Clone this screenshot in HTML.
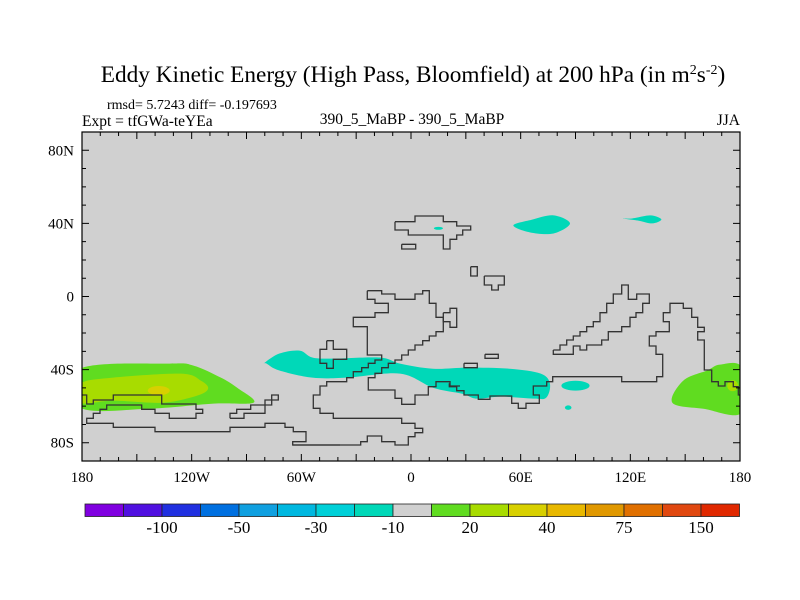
<!DOCTYPE html>
<html><head><meta charset="utf-8"><style>
html,body{margin:0;padding:0;background:#fff;}
svg{display:block;}
text{font-family:"Liberation Serif",serif;fill:#000;}
</style></head><body>
<svg id="chart" width="800" height="600" viewBox="0 0 800 600">
<text x="413" y="82" font-size="23.3" text-anchor="middle">Eddy Kinetic Energy (High Pass, Bloomfield) at 200 hPa (in m<tspan dy="-8" font-size="14">2</tspan><tspan dy="8">s</tspan><tspan dy="-8" font-size="14">-2</tspan><tspan dy="8">)</tspan></text>
<text x="107" y="109" font-size="14">rmsd= 5.7243 diff= -0.197693</text>
<text x="82" y="126" font-size="15.5">Expt = tfGWa-teYEa</text>
<text x="412" y="124" font-size="15.5" text-anchor="middle">390_5_MaBP - 390_5_MaBP</text>
<text x="740" y="125" font-size="15.5" text-anchor="end">JJA</text>
<defs><clipPath id="pc"><rect x="82" y="132" width="658" height="329"/></clipPath></defs>
<rect x="82" y="132" width="658" height="329" fill="#d0d0d0"/>
<g id="fills" clip-path="url(#pc)"></g>
<g id="coast" clip-path="url(#pc)" fill="none" stroke="#333" stroke-width="1.3"></g>
<g id="axes"></g>
<g id="cbar"></g>
</svg>
<script>
// ---- data ----
const lonTicks = [-180,-120,-60,0,60,120,180];
const lonLabels = ["180","120W","60W","0","60E","120E","180"];
const latTicks = [80,40,0,-40,-80];
const latLabels = ["80N","40N","0","40S","80S"];
const cbarLevels = ["-100","-50","-30","-10","20","40","75","150"];
const cbarColors = ["#8000e0","#5010e0","#2030e0","#0070e0","#10a0e0","#00b8e0","#00d0d8","#00d8b8","#d0d0d0","#60dc20","#a8dc00","#d8d000","#e8b800","#e09800","#e07000","#e04810","#e02800"];
// contour regions in lon/lat with level index into cbarColors
const regionLevels = [9,10,7,9,7,7];
const regionGreenSW = [[-181,-39.5],[-132,-36.7],[-119,-37.8],[-104,-44.4],[-95,-50],[-86,-58],[-108,-58.6],[-144,-61.4],[-181,-60.8]];
const regionYGSW = [[-181,-47.7],[-163,-44.4],[-126,-42.2],[-115,-46],[-111,-50.4],[-117,-54.2],[-136,-58.1],[-163,-57],[-181,-58.1]];
const regionTealS = [[-80,-36.2],[-72,-31.2],[-61,-29.6],[-54,-33.4],[-43,-34],[-17,-33.4],[-6,-36.7],[12,-39.5],[31,-38.9],[54,-39.5],[71,-42.2],[76,-47.7],[74,-55.3],[67,-55.9],[49,-54.8],[36,-55.9],[28,-53.2],[12,-49.9],[-6,-42.2],[-35,-44.4],[-54,-44.4],[-72,-40.5],[-79,-36.7]];
const regionGreenSE = [[143,-58.1],[149,-46],[162,-40.5],[169,-37.3],[181,-38.9],[181,-63.6],[160,-61.4]];
const regionTealN1 = [[56,38.9],[66,42],[78,44.4],[87,40],[78,34.5],[65,35.1]];
const regionTealN2 = [[116,42.7],[121,42.7],[131,44.4],[137,42.2],[132,40],[124,41.6]];
const regions = [regionGreenSW,regionYGSW,regionTealS,regionGreenSE,regionTealN1,regionTealN2];
// small spots: lon, lat, rx(deg), ry(deg), level
const spotLon = [-138,90,86,176,15];
const spotLat = [-51.5,-48.8,-60.8,-48.8,37.3];
const spotRx = [6,7.7,1.8,3,2.5];
const spotRy = [2.5,2.7,1.2,3,0.8];
const spotLevel = [11,7,7,10,7];

// ---- axes ----
const X0=82,X1=740,Y0=132,Y1=461;
const xS = lon => X0 + (lon+180)/360*(X1-X0);
const yS = lat => Y0 + (90-lat)/180*(Y1-Y0);
const NS="http://www.w3.org/2000/svg";
function mk(tag,parent){const e=document.createElementNS(NS,tag);parent.appendChild(e);return e;}

function smoothPath(pts){
  const P=pts.map(p=>[xS(p[0]),yS(p[1])]);const n=P.length;let d="M"+P[0][0]+","+P[0][1];
  for(let i=0;i<n;i++){const p0=P[(i-1+n)%n],p1=P[i],p2=P[(i+1)%n],p3=P[(i+2)%n];
    d+=" C"+(p1[0]+(p2[0]-p0[0])/6)+","+(p1[1]+(p2[1]-p0[1])/6)+" "+(p2[0]-(p3[0]-p1[0])/6)+","+(p2[1]-(p3[1]-p1[1])/6)+" "+p2[0]+","+p2[1];}
  return d+"Z";
}
const fills=document.getElementById('fills');
regions.forEach((r,i)=>{const p=mk('path',fills);p.setAttribute('d',smoothPath(r));p.setAttribute('fill',cbarColors[regionLevels[i]]);

});
spotLon.forEach((lo,i)=>{const e=mk('ellipse',fills);e.setAttribute('cx',xS(lo));e.setAttribute('cy',yS(spotLat[i]));
e.setAttribute('rx',spotRx[i]*(X1-X0)/360);e.setAttribute('ry',spotRy[i]*(Y1-Y0)/180);e.setAttribute('fill',cbarColors[spotLevel[i]]);

});

// ---- basemap outlines (traced in zoomed screen units: ox, oy, then x,y pairs /3) ----
const coastTraces=[
[380,200,[45,65,105,65,105,48,190,48,190,65,230,65,230,78,272,78,272,90,248,90,248,105,230,105,230,118,210,118,210,147,190,147,190,105,85,105,85,90,45,90,45,65]],
[380,200,[65,133,107,133,107,147,65,147,65,133]],
[380,200,[272,200,292,200,292,228,272,228,272,200]],
[380,200,[313,228,373,228,373,255,355,255,355,270,335,270,335,255,313,255,313,228]],
[280,270,[262,62,305,62,305,72,345,72,345,88,405,88,405,72,428,72,428,62,448,62,448,100,468,100,468,142,490,142,490,185,468,185,468,198,448,198,448,212,428,212,428,225,405,225,405,240,385,240,385,255,365,255,365,270,345,270,345,280,325,280,325,293,305,293,305,310,285,310,285,323,265,323,265,360,345,360,345,385,365,385,365,403,405,403,405,375,445,375,445,350,468,350,468,335,510,335,510,348,540,348]],
[280,270,[262,62,262,88,285,88,285,100,325,100,325,128,285,128,285,142,220,142,220,170,262,170,262,255,305,255,305,270,285,270,285,280,265,280,265,293,245,293,245,305,220,305,220,323,200,323,200,335,140,335,140,348,120,348,120,375,100,375,100,415,120,415,120,430,160,430,160,445,365,445,365,460,405,460,405,475,428,475,428,488,405,488,405,500,385,500,385,525,345,525,345,515,305,515,305,498,262,498,262,515,242,515,242,525,38,525]],
[280,270,[140,212,160,212,160,238,200,238,200,268,160,268,160,295,140,295,140,280,120,280,120,238,140,238,140,212]],
[280,270,[490,128,510,128,510,115,530,115,530,172,510,172,510,155,490,155,490,128]],
[400,270,[192,280,232,280,232,293,192,293,192,280]],
[400,270,[255,253,295,253,295,265,255,265,255,253]],
[400,270,[148,340,148,350,170,350,170,362,192,362,192,375,235,375,235,388,270,388,270,378,335,378,335,400,355,400,355,415,378,415,378,400,418,400,418,375,400,375,400,348,440,348,440,335,458,335,458,320,665,320,665,335,770,335,770,320,788,320,788,253,768,253,768,228,748,228,748,198,768,198,768,185,808,185,808,155,790,155,790,128,810,128,810,100,850,100,850,115,875,115,875,142,893,142,893,172,913,172,913,185,893,185,893,210,913,210,913,300,935,300,935,335,955,335,955,348,975,348,975,335,1000,335,1000,350,1015,350,1015,375,1040,375]],
[400,270,[460,240,480,240,480,225,500,225,500,210,520,210,520,198,540,198,540,185,560,185,560,170,580,170,580,155,600,155,600,128,620,128,620,100,640,100,640,72,665,72,665,45,685,45,685,88,710,88,710,72,748,72,748,100,728,100,728,128,708,128,708,142,690,142,690,170,665,170,665,185,625,185,625,210,605,210,605,225,560,225,560,240,540,240,540,228,520,228,520,253,460,253,460,240]],
[80,330,[0,195,20,195,20,222,40,222,40,210,100,210,100,195,245,195,245,222,348,222,348,238,368,238,368,250,348,250,348,265,268,265,268,250,225,250,225,238,185,238,185,225,80,225,80,238,60,238,60,250,40,250,40,265,20,265,20,280,100,280,100,292,225,292,225,305,450,305,450,292,555,292,555,280,615,280,615,292,640,292,640,305,678,305,678,335,638,335,638,345,780,345]],
[80,330,[450,265,450,250,470,250,470,238,512,238,512,225,555,225,555,210,575,210,575,195,595,195,595,210,575,210,575,225,555,225,555,250,492,250,492,265,450,265]]
];
const coast=document.getElementById('coast');
coastTraces.forEach((t,i)=>{const a=t[2];let pts=[];for(let k=0;k<a.length;k+=2)pts.push((t[0]+a[k]/3).toFixed(1)+","+(t[1]+a[k+1]/3).toFixed(1));
const pl=mk('polyline',coast);pl.setAttribute('points',pts.join(' '));

});

// ---- frame, ticks, labels ----
const ax=document.getElementById('axes');
const fr=mk('rect',ax);fr.setAttribute('x',X0);fr.setAttribute('y',Y0);fr.setAttribute('width',X1-X0);fr.setAttribute('height',Y1-Y0);
fr.setAttribute('fill','none');fr.setAttribute('stroke','#000');fr.setAttribute('stroke-width','1.2');


let td="";
for(let lo=-180;lo<=180;lo+=10){const x=xS(lo);const L=(lo%30===0)?7:4;td+=`M${x},${Y0}v${L}M${x},${Y1}v${-L}`;}
for(let la=-90;la<=90;la+=10){const y=yS(la);const L=(la%40===0)?7:4;td+=`M${X0},${y}h${L}M${X1},${y}h${-L}`;}
const tk=mk('path',ax);tk.setAttribute('d',td);tk.setAttribute('stroke','#000');tk.setAttribute('stroke-width','1');


lonTicks.forEach((lo,i)=>{const t=mk('text',ax);t.setAttribute('x',xS(lo));t.setAttribute('y',482);t.setAttribute('font-size','15');t.setAttribute('text-anchor','middle');t.textContent=lonLabels[i];

});
latTicks.forEach((la,i)=>{const t=mk('text',ax);t.setAttribute('x',74);t.setAttribute('y',yS(la)+5);t.setAttribute('font-size','15');t.setAttribute('text-anchor','end');t.textContent=latLabels[i];

});

// ---- colorbar ----
const cb=document.getElementById('cbar');
const CB0=85,CBW=38.5,CBY=504,CBH=12.5;
cbarColors.forEach((c,i)=>{const r=mk('rect',cb);r.setAttribute('x',CB0+i*CBW);r.setAttribute('y',CBY);r.setAttribute('width',CBW);r.setAttribute('height',CBH);
r.setAttribute('fill',c);r.setAttribute('stroke','#222');r.setAttribute('stroke-width','0.8');

});
cbarLevels.forEach((s,i)=>{const t=mk('text',cb);t.setAttribute('x',CB0+(2*i+2)*CBW);t.setAttribute('y',533);t.setAttribute('font-size','17');t.setAttribute('text-anchor','middle');t.textContent=s;

});
</script>
</body></html>
